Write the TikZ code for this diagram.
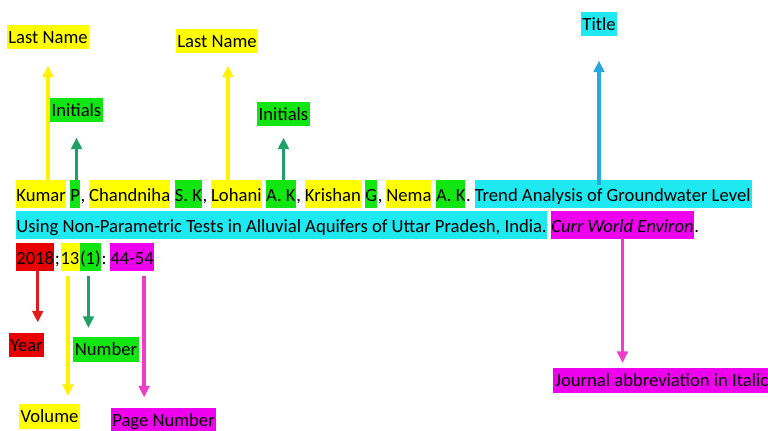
\documentclass[tikz,border=0pt]{standalone}
\usepackage{fontspec}
\setmainfont{Carlito}
\usetikzlibrary{positioning,arrows.meta}

\definecolor{hlyellow}{HTML}{FFFF00}
\definecolor{hlgreen}{HTML}{12E612}
\definecolor{hlcyan}{HTML}{1EE8F0}
\definecolor{hlpink}{HTML}{EE00EE}
\definecolor{hlred}{HTML}{E80000}
\definecolor{arryellow}{HTML}{FFF200}
\definecolor{arrgreen}{HTML}{1FA064}
\definecolor{arrblue}{HTML}{29A8E0}
\definecolor{arrred}{HTML}{E31B1B}
\definecolor{arrpink}{HTML}{F03CC8}

\newcommand{\wsp}{\kern.17em}

\tikzset{
  frag/.style={inner xsep=0pt, inner ysep=0pt, text height=0.44cm, text depth=0.12cm},
  tag/.style={inner xsep=1pt, inner ysep=0pt, text height=0.37cm, text depth=0.12cm},
  arr/.style={line width=2pt, -{Triangle[width=6pt,length=6.5pt]}}
}

\begin{document}
\begin{tikzpicture}[font=\fontsize{10.6}{12}\selectfont]

\useasboundingbox (0,0) rectangle (15.36,8.6);

\node[frag,fill=hlyellow,anchor=base west] (kumar) at (0.32,4.56) {Kumar};
\node[frag,right=0pt of kumar] (s1) {\wsp};
\node[frag,fill=hlgreen,right=0pt of s1] (p) {P};
\node[frag,right=0pt of p] (c1) {,\wsp};
\node[frag,fill=hlyellow,right=0pt of c1] (chandniha) {Chandniha};
\node[frag,right=0pt of chandniha] (s2) {\wsp};
\node[frag,fill=hlgreen,right=0pt of s2] (sk) {S. K};
\node[frag,right=0pt of sk] (c2) {,\wsp};
\node[frag,fill=hlyellow,right=0pt of c2] (lohani) {Lohani};
\node[frag,right=0pt of lohani] (s3) {\wsp};
\node[frag,fill=hlgreen,right=0pt of s3] (ak1) {A. K};
\node[frag,right=0pt of ak1] (c3) {,\wsp};
\node[frag,fill=hlyellow,right=0pt of c3] (krishan) {Krishan};
\node[frag,right=0pt of krishan] (s4) {\wsp};
\node[frag,fill=hlgreen,right=0pt of s4] (g) {G};
\node[frag,right=0pt of g] (c4) {,\wsp};
\node[frag,fill=hlyellow,right=0pt of c4] (nema) {Nema};
\node[frag,right=0pt of nema] (s5) {\wsp};
\node[frag,fill=hlgreen,right=0pt of s5] (ak2) {A. K};
\node[frag,right=0pt of ak2] (d1) {.\wsp};
\node[frag,fill=hlcyan,right=0pt of d1] (trend) {Trend Analysis of Groundwater Level\kern1pt};

\node[frag,fill=hlcyan,anchor=base west] (using) at (0.32,3.94) {Using Non-Parametric Tests in Alluvial Aquifers of Uttar Pradesh, India.};
\node[frag,right=0pt of using] (s6) {\wsp};
\node[frag,fill=hlpink,right=0pt of s6,font=\fontsize{10.6}{12}\selectfont\itshape] (journal) {Curr World Environ};
\node[frag,right=0pt of journal] (d2) {.};

\node[frag,fill=hlred,anchor=base west] (y2018) at (0.32,3.30) {2018};
\node[frag,right=0pt of y2018] (sc) {;};
\node[frag,fill=hlyellow,right=0pt of sc] (vol13) {13};
\node[frag,fill=hlgreen,right=0pt of vol13] (num1) {(1)};
\node[frag,right=0pt of num1] (co) {:\wsp};
\node[frag,fill=hlpink,right=0pt of co] (pages) {44-54};

\node[tag,fill=hlyellow] (lastA) at (0.96,7.86) {Last Name};
\node[tag,fill=hlyellow] (lastB) at (4.34,7.78) {Last Name};
\node[tag,fill=hlgreen] (initA) at (1.53,6.40) {Initials};
\node[tag,fill=hlgreen] (initB) at (5.67,6.32) {Initials};
\node[tag,fill=hlcyan] (title) at (11.98,8.12) {Title};
\node[tag,fill=hlred] (year) at (0.53,1.70) {Year};
\node[tag,fill=hlgreen] (number) at (2.12,1.61) {Number};
\node[tag,fill=hlyellow] (volume) at (0.99,0.27) {Volume};
\node[tag,fill=hlpink] (page) at (3.27,0.20) {Page Number};
\node[tag,fill=hlpink,anchor=west] (jabbr) at (11.06,0.99) {Journal abbreviation in Italic};

\draw[arr,arryellow,shorten >=0.32cm] (kumar.north -| lastA.south) -- (lastA.south);
\draw[arr,arrgreen,shorten >=0.30cm] (p.north -| initA.south) -- (initA.south);
\draw[arr,arryellow,shorten >=0.24cm] ([xshift=0.22cm]lastB.south |- lohani.north) -- ([xshift=0.22cm]lastB.south);
\draw[arr,arrgreen,shorten >=0.22cm] (ak2.north -| initB.south) -- (initB.south);
\draw[arr,arrblue,shorten <=-0.1cm,shorten >=0.48cm] (trend.north -| title.south) -- (title.south);

\draw[arr,arrred,shorten >=0.2cm] ([xshift=0.05cm]y2018.south) -- ([xshift=0.05cm]y2018.south |- year.north);
\draw[arr,arryellow,shorten <=0.1cm,shorten >=0.16cm] ([xshift=-0.04cm]vol13.south) -- ([xshift=-0.04cm]vol13.south |- volume.north);
\draw[arr,arrgreen,shorten <=0.1cm,shorten >=0.18cm] ([xshift=-0.04cm]num1.south) -- ([xshift=-0.04cm]num1.south |- number.north);
\draw[arr,arrpink,shorten <=0.1cm,shorten >=0.2cm] ([xshift=0.24cm]pages.south) -- ([xshift=0.24cm]pages.south |- page.north);
\draw[arr,arrpink,shorten >=0.1cm] (journal.south) -- (journal.south |- jabbr.north);

\end{tikzpicture}
\end{document}
